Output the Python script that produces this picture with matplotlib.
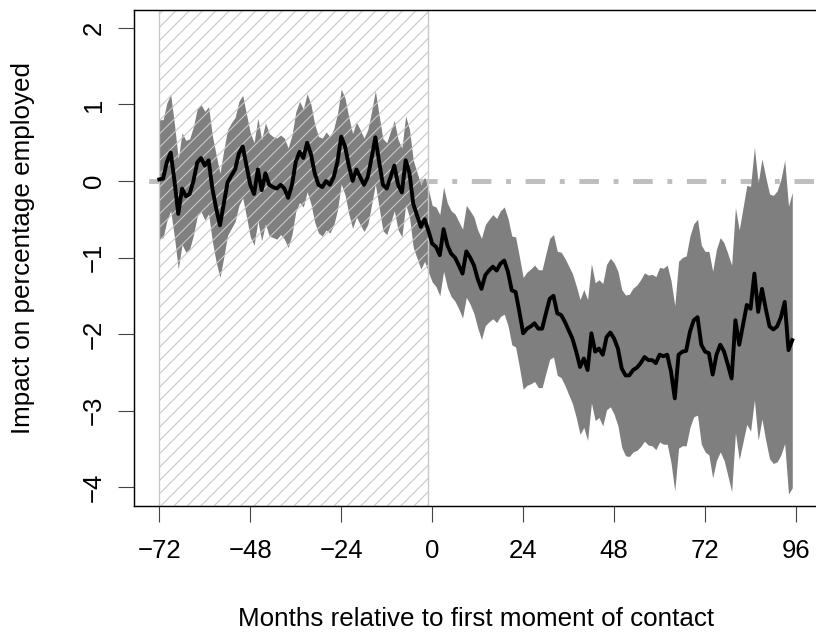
import numpy as np
import matplotlib
matplotlib.use("Agg")
import matplotlib.pyplot as plt

# months relative to first contact
months = np.arange(-72, 96)

# estimated impact (percentage points)
estimate = [
    0.02, 0.03, 0.25, 0.37, 0.00, -0.43, -0.10, -0.20, -0.17, 0.00, 0.24, 0.30,
    0.20, 0.27, -0.10, -0.36, -0.58, -0.30, -0.02, 0.07, 0.15, 0.36, 0.45, 0.20,
    -0.05, -0.17, 0.15, -0.12, 0.10, -0.05, -0.08, -0.10, -0.05, -0.10, -0.22, -0.05,
    0.25, 0.38, 0.30, 0.50, 0.35, 0.10, -0.05, -0.08, 0.00, -0.05, 0.05, 0.25,
    0.58, 0.45, 0.20, 0.00, 0.15, 0.05, -0.05, 0.05, 0.30, 0.57, 0.25, -0.05,
    -0.10, 0.05, 0.20, -0.05, -0.15, 0.27, 0.10, -0.30, -0.45, -0.60, -0.50, -0.65,
    -0.82, -0.86, -0.97, -0.63, -0.84, -0.95, -1.00, -1.10, -1.21, -0.92, -1.00, -1.10,
    -1.28, -1.41, -1.23, -1.17, -1.12, -1.17, -1.08, -1.04, -1.19, -1.43, -1.45, -1.71,
    -1.99, -1.93, -1.90, -1.86, -1.93, -1.93, -1.73, -1.54, -1.50, -1.73, -1.75, -1.84,
    -1.95, -2.06, -2.23, -2.43, -2.32, -2.47, -1.99, -2.23, -2.19, -2.27, -2.04, -1.98,
    -2.06, -2.19, -2.45, -2.54, -2.54, -2.47, -2.44, -2.38, -2.30, -2.34, -2.34, -2.38,
    -2.27, -2.29, -2.27, -2.49, -2.84, -2.27, -2.23, -2.22, -1.97, -1.82, -1.78, -2.14,
    -2.23, -2.25, -2.53, -2.27, -2.14, -2.23, -2.40, -2.58, -1.82, -2.14, -1.88, -1.62,
    -1.67, -1.21, -1.71, -1.41, -1.67, -1.90, -1.94, -1.90, -1.78, -1.58, -2.21, -2.08,
]

# half width of the confidence band
half_width = [
    0.78, 0.77, 0.77, 0.76, 0.74, 0.72, 0.73, 0.73, 0.72, 0.71, 0.70, 0.70,
    0.71, 0.70, 0.69, 0.70, 0.68, 0.70, 0.69, 0.69, 0.68, 0.68, 0.67, 0.67,
    0.68, 0.67, 0.67, 0.66, 0.66, 0.67, 0.66, 0.66, 0.65, 0.66, 0.65, 0.65,
    0.65, 0.66, 0.64, 0.64, 0.65, 0.64, 0.63, 0.64, 0.64, 0.63, 0.63, 0.63,
    0.62, 0.63, 0.63, 0.62, 0.62, 0.62, 0.61, 0.62, 0.61, 0.61, 0.60, 0.60,
    0.60, 0.60, 0.59, 0.59, 0.58, 0.58, 0.57, 0.57, 0.56, 0.55, 0.55, 0.54,
    0.50, 0.52, 0.53, 0.55, 0.55, 0.56, 0.57, 0.57, 0.58, 0.60, 0.61, 0.63,
    0.64, 0.66, 0.66, 0.67, 0.68, 0.68, 0.69, 0.70, 0.70, 0.71, 0.72, 0.72,
    0.73, 0.74, 0.75, 0.76, 0.77, 0.77, 0.78, 0.79, 0.80, 0.81, 0.82, 0.83,
    0.84, 0.85, 0.86, 0.88, 0.90, 0.92, 0.91, 0.90, 0.90, 0.93, 0.95, 0.97,
    0.99, 1.01, 1.03, 1.05, 1.06, 1.07, 1.08, 1.09, 1.10, 1.11, 1.12, 1.13,
    1.14, 1.15, 1.17, 1.19, 1.21, 1.22, 1.23, 1.24, 1.25, 1.26, 1.28, 1.30,
    1.31, 1.33, 1.35, 1.38, 1.40, 1.42, 1.45, 1.48, 1.47, 1.50, 1.53, 1.56,
    1.60, 1.65, 1.68, 1.70, 1.72, 1.73, 1.75, 1.77, 1.80, 1.85, 1.88, 1.93,
]

pre_period = (-72, -1)
x_ticks = list(range(-72, 97, 24))
y_ticks = list(range(-4, 3))

plt.rcParams["font.family"] = ["Liberation Sans", "DejaVu Sans"]
plt.rcParams["hatch.linewidth"] = 1.0

est = np.array(estimate)
hw = np.array(half_width)

fig = plt.figure(figsize=(10.2, 7.9), dpi=80)
ax = fig.add_axes([134 / 816, 1 - 505.5 / 632, (817.6 - 134) / 816, 496 / 632])

# zero reference line, R-style dotdash
ax.axhline(0, color="#bebebe", lw=4.4, linestyle=(1, (1, 3, 4, 3)),
           dash_capstyle="butt", zorder=1)
ax.fill_between(months, est - hw, est + hw, color="#7f7f7f", lw=0, zorder=2)
ax.axvspan(*pre_period, facecolor="none", edgecolor="#c8c8c8", hatch="//",
           lw=1.2, zorder=3)
ax.plot(months, est, color="black", lw=3.5, solid_joinstyle="round", zorder=4)

# R default 4% padding
xr = months.max() - months.min()
ax.set_xlim(months.min() - 0.04 * xr, months.max() + 0.04 * xr)
yr = y_ticks[-1] - y_ticks[0]
ax.set_ylim(y_ticks[0] - 0.04 * yr, y_ticks[-1] + 0.04 * yr)

ax.set_xticks(x_ticks)
ax.set_yticks(y_ticks)
ax.tick_params(length=14.4, width=1.0, color="#444444", labelsize=23.2)
ax.tick_params(axis="x", pad=16.0)
ax.tick_params(axis="y", pad=10.8, labelrotation=90)
for t in ax.get_yticklabels():
    t.set_va("center")
for s in ax.spines.values():
    s.set_linewidth(1.3)
    s.set_color("black")
    s.set_zorder(5)
ax.spines["right"].set_visible(False)

fig.text(476 / 816, 1 - 619 / 632, "Months relative to first moment of contact",
         ha="center", va="center", fontsize=23.4)
fig.text(23 / 816, 1 - 248 / 632, "Impact on percentage employed",
         ha="center", va="center", rotation=90, fontsize=23.4)

fig.savefig("out.png", dpi=80)
